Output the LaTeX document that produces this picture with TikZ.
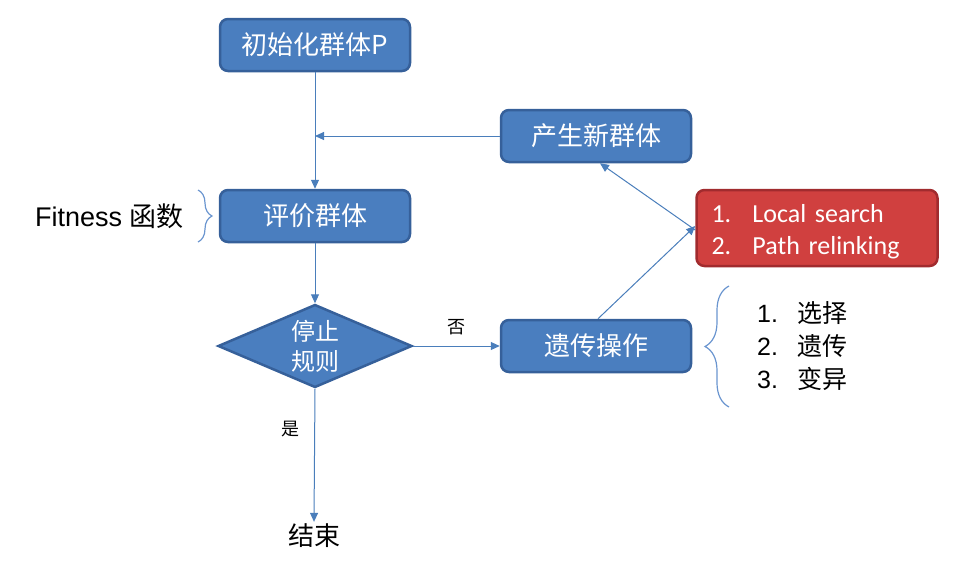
\documentclass[tikz,border=0pt]{standalone}
\usepackage{fontspec}
\usepackage{tikz}
\usetikzlibrary{shapes.geometric,arrows.meta,decorations.pathreplacing,positioning}
\setmainfont{Liberation Sans}
\newfontfamily\cjk{Noto Sans CJK SC}
\newfontfamily\calib{Carlito}
\definecolor{boxblue}{HTML}{4A7EBF}
\definecolor{boxedge}{HTML}{36609A}
\definecolor{lineblue}{HTML}{4A7EBB}
\definecolor{boxred}{HTML}{D0403F}
\definecolor{rededge}{HTML}{A12B2E}
\definecolor{braceblue}{HTML}{6A95CF}
\tikzset{
  procbox/.style={draw=boxedge,fill=boxblue,line width=2.5pt,rounded corners=8pt,
    minimum width=190pt,minimum height=52pt,text=white,
    font=\cjk\fontsize{26}{30}\selectfont},
  flowline/.style={draw=lineblue,line width=1pt,-{Triangle[length=9pt,width=8pt]}},
  bracebar/.style={draw=braceblue,line width=1.2pt,decorate,decoration={brace,amplitude=#1}},
  flowlabel/.style={font=\cjk\fontsize{18}{20}\selectfont,inner sep=1pt}
}
\begin{document}
\begin{tikzpicture}[x=1pt,y=-1pt]
\useasboundingbox (0,0) rectangle (954,563);
\node[procbox] (init) at (315,45) {初始化群体P};
\node[procbox] (newpop) at (596,136) {产生新群体};
\node[procbox] (eval) at (315,216) {评价群体};
\node[draw=boxedge,fill=boxblue,line width=2.5pt,diamond,aspect=2.3,inner sep=0pt,
  minimum width=194pt,minimum height=83pt,text=white,align=center,
  font=\cjk\fontsize{24}{30}\selectfont] (stop) at (315,346) {停止\\规则};
\node[procbox] (gen) at (596,346) {遗传操作};
\node[draw=rededge,fill=boxred,line width=2.5pt,rounded corners=8pt,
  minimum width=241pt,minimum height=76pt] (ls) at (817,228) {};
\node[text width=211pt,inner sep=0pt,align=left,text=white,
  font=\calib\fontsize{26}{32}\selectfont] (lstext) at ([yshift=-4pt]ls.center)
  {\makebox[41pt][l]{1.}Local search\\\makebox[41pt][l]{2.}Path relinking};
\node[anchor=west,inner sep=0pt,font=\fontsize{27}{30}\selectfont] (fit) at (35,216) {Fitness {\cjk 函数}};
\node[anchor=west,inner sep=0pt,align=left,font=\fontsize{25}{33}\selectfont] (ops) at (757,346)
  {\makebox[40pt][l]{1.}{\cjk 选择}\\\makebox[40pt][l]{2.}{\cjk 遗传}\\\makebox[40pt][l]{3.}{\cjk 变异}};
\node[inner sep=2pt,font=\cjk\fontsize{26}{30}\selectfont] (end) at (314,536) {结束};
\coordinate (join) at (init.south |- newpop.west);
\draw[flowline] (init) -- (eval);
\draw[flowline] (newpop.west) -- (join);
\draw[flowline] (eval) -- (stop);
\draw[flowline] (stop.east) -- node[flowlabel,above=10pt] {否} (gen.west);
\draw[flowline] (stop.south) -- node[flowlabel,left=14pt,pos=0.3] {是} (end.north);
\draw[flowline] ([xshift=2pt]gen.north) -- ([yshift=2pt]ls.west);
\draw[flowline] ([yshift=-2pt]ls.west) -- ([xshift=4pt]newpop.south);
\draw[bracebar=14pt] (198,190) -- (198,242);
\draw[bracebar=24pt] (729,407) -- (729,286);
\end{tikzpicture}
\end{document}
